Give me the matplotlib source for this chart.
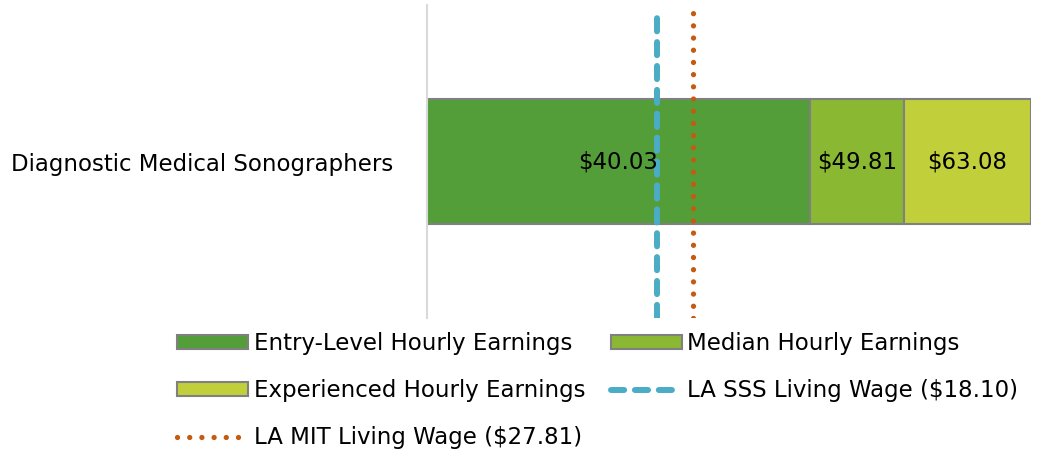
import matplotlib
matplotlib.use("Agg")
import matplotlib.pyplot as plt
from matplotlib.patches import Patch
from matplotlib.lines import Line2D

# Data
categories = ["Diagnostic Medical Sonographers"]
entry = [40.03]
median = [49.81]
experienced = [63.08]
series_names = ["Entry-Level Hourly Earnings", "Median Hourly Earnings",
                "Experienced Hourly Earnings"]
sss_label = "LA SSS Living Wage ($18.10)"
mit_label = "LA MIT Living Wage ($27.81)"
sss_line_x = 24.0   # position as drawn in the reference
mit_line_x = 27.81

colors = ["#549E39", "#8AB833", "#C0CF3A"]
edge = "#808080"
sss_color = "#4BACC6"
mit_color = "#C55A11"

plt.rcParams['font.family'] = ['DejaVu Sans']
FS = 16.5

W, H = 1038, 455
fig = plt.figure(figsize=(W / 100, H / 100), dpi=100)
ax = fig.add_axes([427 / W, 1 - 318 / H, (1031 - 427) / W, (318 - 5) / H])

y = list(range(len(categories)))
seg1 = entry
seg2 = [m - e for m, e in zip(median, entry)]
seg3 = [x - m for x, m in zip(experienced, median)]
bh = 0.4
ax.barh(y, seg1, height=bh, color=colors[0], edgecolor=edge, linewidth=1.5, zorder=2)
ax.barh(y, seg2, left=seg1, height=bh, color=colors[1], edgecolor=edge, linewidth=1.5, zorder=2)
ax.barh(y, seg3, left=median, height=bh, color=colors[2], edgecolor=edge, linewidth=1.5, zorder=2)

for i in y:
    ax.text(seg1[i] / 2, i, f"${entry[i]:.2f}", ha="center", va="center", fontsize=FS, zorder=5)
    ax.text(entry[i] + seg2[i] / 2, i, f"${median[i]:.2f}", ha="center", va="center", fontsize=FS, zorder=5)
    ax.text(median[i] + seg3[i] / 2, i, f"${experienced[i]:.2f}", ha="center", va="center", fontsize=FS, zorder=5)

lw_s = 4.3
ax.axvline(sss_line_x, ymin=0.0, ymax=0.985, color=sss_color, lw=lw_s,
           linestyle=(0, (2.2, 1.8)), dash_capstyle="round", zorder=4)
lw_m = 3.8
ax.axvline(mit_line_x, ymin=0.0, ymax=0.975, color=mit_color, lw=lw_m,
           linestyle=(0, (0.01, 2.3)), dash_capstyle="round", zorder=4)

ax.set_xlim(0, 63.08 * (1031 - 427) / (1030.7 - 427))
ax.set_ylim(-0.5, 0.5)
ax.set_yticks(y)
ax.set_yticklabels(categories, fontsize=FS)
ax.tick_params(axis="y", length=0, pad=24)
ax.set_xticks([])
for s in ["top", "right", "bottom"]:
    ax.spines[s].set_visible(False)
ax.spines["left"].set_color("#D9D9D9")
ax.spines["left"].set_linewidth(1.5)

handles = [
    Patch(facecolor=colors[0], edgecolor=edge, linewidth=1.5, label=series_names[0]),
    Patch(facecolor=colors[2], edgecolor=edge, linewidth=1.5, label=series_names[2]),
    Line2D([], [], color=mit_color, lw=lw_m, linestyle=(0, (0.01, 2.3)),
           dash_capstyle="round", label=mit_label),
    Patch(facecolor=colors[1], edgecolor=edge, linewidth=1.5, label=series_names[1]),
    Line2D([], [], color=sss_color, lw=lw_s, linestyle=(0, (2.2, 1.8)),
           dash_capstyle="round", label=sss_label),
]
leg = fig.legend(handles=handles, loc="upper left", bbox_to_anchor=(168 / W, 1 - 323 / H),
                 ncol=2, frameon=False, fontsize=FS, handlelength=3.1, handleheight=0.6,
                 handletextpad=0.25, columnspacing=1.1, labelspacing=1.05, borderaxespad=0)

fig.savefig("out.png", dpi=100)
